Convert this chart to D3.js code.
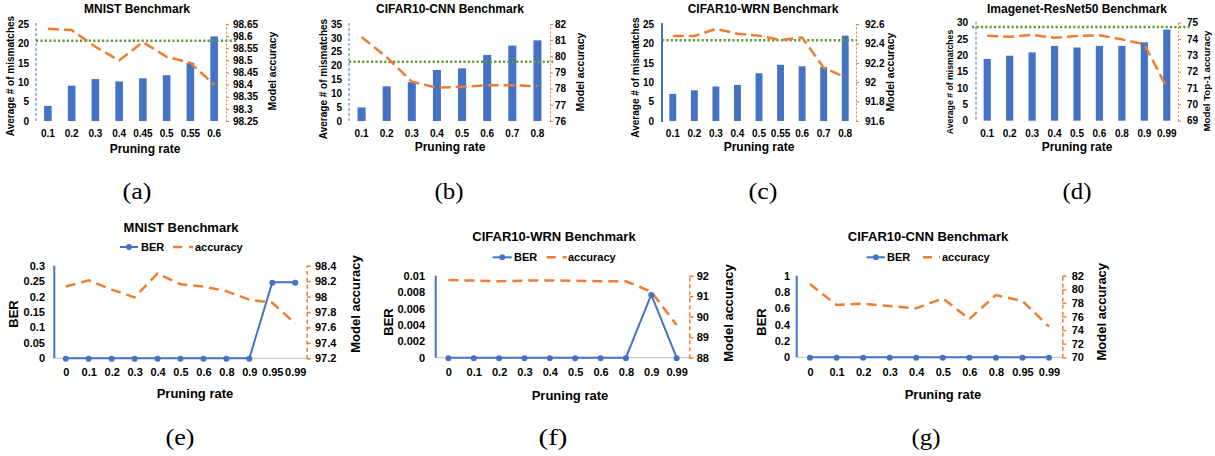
<!DOCTYPE html>
<html><head><meta charset="utf-8">
<script src="https://cdn.jsdelivr.net/npm/d3@7"></script>
<style>
body{margin:0;background:#fff}
svg{display:block}
</style>
</head><body>
<svg id="c" width="1215" height="456"></svg>
<script>
// ---------- DATA ----------
const mnistRates = ["0.1","0.2","0.3","0.4","0.45","0.5","0.55","0.6"];
const mnistMismatch = [3.9, 9.1, 10.8, 10.2, 11.0, 11.8, 15.0, 21.8];
const mnistAcc = [98.63, 98.625, 98.556, 98.50, 98.575, 98.515, 98.49, 98.40];
const mnistThreshold = 20.7;
const mnistCountTicks = [0,5,10,15,20,25];
const mnistAccTicks = [98.25,98.3,98.35,98.4,98.45,98.5,98.55,98.6,98.65];

const cnnRates = ["0.1","0.2","0.3","0.4","0.5","0.6","0.7","0.8"];
const cnnMismatch = [4.9, 12.5, 14.0, 18.4, 19.0, 23.8, 27.2, 29.1];
const cnnAcc = [81.2, 79.94, 78.43, 78.06, 78.12, 78.21, 78.21, 78.15];
const cnnThreshold = 21.4;
const cnnCountTicks = [0,5,10,15,20,25,30,35];
const cnnAccTicks = [76,77,78,79,80,81,82];

const wrnRates = ["0.1","0.2","0.3","0.4","0.5","0.55","0.6","0.7","0.8"];
const wrnMismatch = [7.0, 7.9, 8.9, 9.3, 12.3, 14.5, 14.1, 13.9, 22.0];
const wrnAcc = [92.476, 92.476, 92.55, 92.50, 92.48, 92.435, 92.46, 92.15, 92.05];
const wrnThreshold = 20.8;
const wrnCountTicks = [0,5,10,15,20,25];
const wrnAccTicks = [91.6,91.8,92,92.2,92.4,92.6];

const resRates = ["0.1","0.2","0.3","0.4","0.5","0.6","0.8","0.9","0.99"];
const resMismatch = [18.9, 19.9, 20.9, 22.9, 22.4, 22.9, 22.9, 24.0, 27.9];
const resAcc = [74.2, 74.14, 74.25, 74.08, 74.19, 74.23, 73.98, 73.68, 71.04];
const resThreshold = 28.7;
const resCountTicks = [0,5,10,15,20,25,30];
const resAccTicks = [69,70,71,72,73,74,75];

const berMnistRates = ["0","0.1","0.2","0.3","0.4","0.5","0.6","0.8","0.9","0.95","0.99"];
const berMnist = [0,0,0,0,0,0,0,0,0,0.246,0.246];
const berMnistAcc = [98.13, 98.21, 98.09, 97.99, 98.30, 98.16, 98.13, 98.07, 97.96, 97.92, 97.65];
const berMnistTicks = [0,0.05,0.1,0.15,0.2,0.25,0.3];
const berMnistAccTicks = [97.2,97.4,97.6,97.8,98,98.2,98.4];

const berWrnRates = ["0","0.1","0.2","0.3","0.4","0.5","0.6","0.8","0.9","0.99"];
const berWrn = [0,0,0,0,0,0,0,0,0.0077,0];
const berWrnAcc = [91.79, 91.76, 91.73, 91.76, 91.77, 91.75, 91.73, 91.73, 91.22, 89.6];
const berWrnTicks = [0,0.002,0.004,0.006,0.008,0.01];
const berWrnAccTicks = [88,89,90,91,92];

const berCnnRates = ["0","0.1","0.2","0.3","0.4","0.5","0.6","0.8","0.95","0.99"];
const berCnn = [0,0,0,0,0,0,0,0,0,0];
const berCnnAcc = [80.78, 77.69, 77.88, 77.54, 77.2, 78.67, 75.63, 79.16, 78.28, 74.5];
const berCnnTicks = [0,0.2,0.4,0.6,0.8,1];
const berCnnAccTicks = [70,72,74,76,78,80,82];

const captions = ["(a)","(b)","(c)","(d)","(e)","(f)","(g)"];

// ---------- STYLE ----------
const BLUE = "#4472C4", ORANGE = "#ED7D31", GREEN = "#5E9A3A";
const SANS = '"Liberation Sans",Arial,sans-serif';
const SERIF = '"Liberation Serif","Times New Roman",serif';
const svg = d3.select("#c");
const fmt = d => String(+(+d).toFixed(4));

function rotLabel(g, txt, x, y, fs) {
  g.append("text").attr("transform", `translate(${x},${y}) rotate(-90)`)
    .attr("text-anchor","middle").attr("dy","0.35em").style("font-family", SANS)
    .attr("font-size", fs).attr("font-weight","bold").attr("fill","#000").text(txt);
}
function centerText(g, txt, x, y, fs, bold) {
  g.append("text").attr("x", x).attr("y", y).attr("dy","0.35em").style("font-family", SANS)
    .attr("text-anchor","middle").attr("font-size", fs)
    .attr("font-weight", bold ? "bold" : "normal").attr("fill","#000").text(txt);
}
function styleAxisText(sel, fs) {
  sel.selectAll("text").attr("font-size", fs).attr("font-weight","bold")
    .attr("fill","#000").style("font-family", SANS);
}

// ---------- TOP COMBO CHARTS ----------
function drawTop(p) {
  const g = svg.append("g");
  const x = d3.scaleBand().domain(p.cats).range([p.x0, p.x1]).paddingInner(0.68).paddingOuter(0.34);
  const yL = d3.scaleLinear().domain(d3.extent(p.leftTicks)).range([p.yB, p.yT]);
  const yR = d3.scaleLinear().domain(d3.extent(p.rightTicks)).range([p.yB, p.yT]);

  g.selectAll("rect.bar").data(p.cats).join("rect").attr("class","bar")
    .attr("x", d => x(d)).attr("width", x.bandwidth())
    .attr("y", (d,i) => yL(p.bars[i]))
    .attr("height", (d,i) => yL(0) - yL(p.bars[i]))
    .attr("fill", BLUE);

  g.append("line").attr("x1", p.x0).attr("x2", p.x0).attr("y1", p.yT - 1).attr("y2", p.yB + 1)
    .attr("stroke", BLUE).attr("stroke-width", p.leftSolid ? 2 : 1)
    .attr("stroke-dasharray", p.leftSolid ? null : "3,2");

  const la = g.append("g").attr("transform", `translate(${p.x0},0)`)
    .call(d3.axisLeft(yL).tickValues(p.leftTicks).tickSize(0).tickPadding(p.x0 - p.lRight).tickFormat(fmt));
  la.select(".domain").remove();
  styleAxisText(la, 10);

  const ra = g.append("g").attr("transform", `translate(${p.x1},0)`)
    .call(d3.axisRight(yR).tickValues(p.rightTicks).tickSizeInner(3).tickSizeOuter(0)
      .tickPadding(p.rLeft - p.x1 - 3).tickFormat(fmt));
  ra.select(".domain").attr("stroke", ORANGE).attr("stroke-width", 1).attr("stroke-dasharray","2,2");
  ra.selectAll(".tick line").attr("stroke", ORANGE);
  styleAxisText(ra, 10);

  const xa = g.append("g").attr("transform", `translate(0,${p.yB})`)
    .call(d3.axisBottom(x).tickSize(0).tickPadding(p.xLabY - p.yB - 3.6));
  xa.select(".domain").remove();
  styleAxisText(xa, 10);

  g.append("line").attr("x1", p.thr[0]).attr("x2", p.thr[1])
    .attr("y1", yL(p.threshold)).attr("y2", yL(p.threshold))
    .attr("stroke", GREEN).attr("stroke-width", 2.5).attr("stroke-dasharray","2.2,2.2");

  const line = d3.line().x((d,i) => x(p.cats[i]) + x.bandwidth()/2).y(d => yR(d));
  g.append("path").datum(p.acc).attr("d", line).attr("fill","none")
    .attr("stroke", ORANGE).attr("stroke-width", 2.5).attr("stroke-dasharray","11,5");

  centerText(g, p.title, p.titleX, 8.3, 12, true);
  centerText(g, "Pruning rate", p.prX, p.prY, 12, true);
  rotLabel(g, "Average # of mismatches", p.lLabX, p.lLabY, p.lLabFs || 10);
  rotLabel(g, p.rightLabel, p.rLabX, p.rLabY, p.rLabFs || 10.5);
}

// ---------- BOTTOM LINE CHARTS ----------
function drawBottom(p) {
  const g = svg.append("g");
  const x = d3.scalePoint().domain(p.cats).range([p.x0, p.x1]).padding(0.5);
  const yL = d3.scaleLinear().domain(d3.extent(p.leftTicks)).range([p.yB, p.yT]);
  const yR = d3.scaleLinear().domain(d3.extent(p.rightTicks)).range([p.yB, p.yT]);

  g.append("line").attr("x1", p.x0).attr("x2", p.x1).attr("y1", p.yB).attr("y2", p.yB)
    .attr("stroke", "#bfbfbf").attr("stroke-width", 1);
  g.append("line").attr("x1", p.x0).attr("x2", p.x0).attr("y1", p.yT).attr("y2", p.yB)
    .attr("stroke", BLUE).attr("stroke-width", 2);

  const la = g.append("g").attr("transform", `translate(${p.x0},0)`)
    .call(d3.axisLeft(yL).tickValues(p.leftTicks).tickSize(0).tickPadding(p.x0 - p.lRight).tickFormat(fmt));
  la.select(".domain").remove();
  styleAxisText(la, 11);

  const ra = g.append("g").attr("transform", `translate(${p.x1},0)`)
    .call(d3.axisRight(yR).tickValues(p.rightTicks).tickSizeInner(4).tickSizeOuter(0)
      .tickPadding(p.rLeft - p.x1 - 4).tickFormat(fmt));
  ra.select(".domain").attr("stroke", ORANGE).attr("stroke-width", 1.5).attr("stroke-dasharray","4,3");
  ra.selectAll(".tick line").attr("stroke", ORANGE).attr("stroke-width", 1.5);
  styleAxisText(ra, 11);

  const xa = g.append("g").attr("transform", `translate(0,${p.yB})`)
    .call(d3.axisBottom(x).tickSize(0).tickPadding(p.xLabY - p.yB - 3.9));
  xa.select(".domain").remove();
  styleAxisText(xa, 11);

  const lineR = d3.line().x((d,i) => x(p.cats[i])).y(d => yR(d));
  g.append("path").datum(p.acc).attr("d", lineR).attr("fill","none")
    .attr("stroke", ORANGE).attr("stroke-width", 2.5).attr("stroke-dasharray","10,6");

  const lineL = d3.line().x((d,i) => x(p.cats[i])).y(d => yL(d));
  g.append("path").datum(p.ber).attr("d", lineL).attr("fill","none")
    .attr("stroke", BLUE).attr("stroke-width", 2);
  g.selectAll("circle.m").data(p.ber).join("circle").attr("class","m")
    .attr("cx", (d,i) => x(p.cats[i])).attr("cy", d => yL(d) + 0.5).attr("r", 3).attr("fill", BLUE);

  const ly = p.legY;
  g.append("line").attr("x1", p.legBer[0]).attr("x2", p.legBer[1]).attr("y1", ly).attr("y2", ly)
    .attr("stroke", BLUE).attr("stroke-width", 2);
  g.append("circle").attr("cx", (p.legBer[0]+p.legBer[1])/2).attr("cy", ly).attr("r", 3).attr("fill", BLUE);
  g.append("text").attr("x", p.legBer[2]).attr("y", ly).attr("dy","0.35em").style("font-family", SANS)
    .attr("font-size", 11).attr("font-weight","bold").attr("fill","#000").text("BER");
  g.append("line").attr("x1", p.legAcc[0]).attr("x2", p.legAcc[1]).attr("y1", ly).attr("y2", ly)
    .attr("stroke", ORANGE).attr("stroke-width", 2.5).attr("stroke-dasharray","9,7");
  g.append("text").attr("x", p.legAcc[2]).attr("y", ly).attr("dy","0.35em").style("font-family", SANS)
    .attr("font-size", 11).attr("font-weight","bold").attr("fill","#000").text("accuracy");

  centerText(g, p.title, p.titleX, p.titleY, 13, true);
  centerText(g, "Pruning rate", p.prX, p.prY, 13, true);
  rotLabel(g, "BER", p.berLabX, p.berLabY, 13);
  rotLabel(g, "Model accuracy", p.rLabX, p.rLabY, 13);
}

// ---------- PANELS ----------
drawTop({title:"MNIST Benchmark", cats:mnistRates, bars:mnistMismatch, acc:mnistAcc, threshold:mnistThreshold,
  leftTicks:mnistCountTicks, rightTicks:mnistAccTicks, rightLabel:"Model accuracy",
  x0:36, x1:226, yT:24, yB:121, lRight:29, rLeft:233, lLabX:10, lLabY:76, rLabX:272, rLabY:71,
  titleX:137, xLabY:133.3, prX:145, prY:149, thr:[36,237], leftSolid:false});
drawTop({title:"CIFAR10-CNN Benchmark", cats:cnnRates, bars:cnnMismatch, acc:cnnAcc, threshold:cnnThreshold,
  leftTicks:cnnCountTicks, rightTicks:cnnAccTicks, rightLabel:"Model accuracy",
  x0:349, x1:550, yT:24, yB:121, lRight:342, rLeft:555, lLabX:323, lLabY:79, rLabX:580, rLabY:72,
  titleX:450, xLabY:133.3, prX:450, prY:146.7, thr:[349,553], leftSolid:false});
drawTop({title:"CIFAR10-WRN Benchmark", cats:wrnRates, bars:wrnMismatch, acc:wrnAcc, threshold:wrnThreshold,
  leftTicks:wrnCountTicks, rightTicks:wrnAccTicks, rightLabel:"Model accuracy",
  x0:662, x1:856, yT:24, yB:121, lRight:654, rLeft:865, lLabX:635, lLabY:77.5, rLabX:890, rLabY:72,
  titleX:763, xLabY:133.3, prX:759, prY:146.7, thr:[662,857], leftSolid:true});
drawTop({title:"Imagenet-ResNet50 Benchmark", cats:resRates, bars:resMismatch, acc:resAcc, threshold:resThreshold,
  leftTicks:resCountTicks, rightTicks:resAccTicks, rightLabel:"Model Top-1 accuracy",
  x0:976, x1:1178, yT:22.7, yB:120.7, lRight:968, rLeft:1187, lLabX:950, lLabY:82, rLabX:1207, rLabY:81,
  lLabFs:8.7, rLabFs:9.7,
  titleX:1077, xLabY:133.3, prX:1077, prY:146.7, thr:[972,1192], leftSolid:false});

drawBottom({title:"MNIST Benchmark", cats:berMnistRates, ber:berMnist, acc:berMnistAcc,
  leftTicks:berMnistTicks, rightTicks:berMnistAccTicks,
  x0:54.3, x1:306.7, yT:265.7, yB:358.3, lRight:45, rLeft:315, berLabX:13, berLabY:314, rLabX:355, rLabY:304,
  titleX:181, titleY:227.5, legY:247, legBer:[120,138,141], legAcc:[173,193,195], xLabY:371.7, prX:195, prY:393});
drawBottom({title:"CIFAR10-WRN Benchmark", cats:berWrnRates, ber:berWrn, acc:berWrnAcc,
  leftTicks:berWrnTicks, rightTicks:berWrnAccTicks,
  x0:435.7, x1:689.3, yT:275.7, yB:357.7, lRight:425, rLeft:696.7, berLabX:388, berLabY:322, rLabX:728.3, rLabY:313,
  titleX:554, titleY:236.7, legY:257.3, legBer:[492.7,511.7,514], legAcc:[546.7,566.7,568], xLabY:371.7, prX:570, prY:395});
drawBottom({title:"CIFAR10-CNN Benchmark", cats:berCnnRates, ber:berCnn, acc:berCnnAcc,
  leftTicks:berCnnTicks, rightTicks:berCnnAccTicks,
  x0:796.7, x1:1062.3, yT:275.7, yB:357.3, lRight:790, rLeft:1071.7, berLabX:761.7, berLabY:322, rLabX:1101.7, rLabY:311.7,
  titleX:928, titleY:236, legY:257.3, legBer:[866.7,885,887], legAcc:[923,940,942], xLabY:371.7, prX:943, prY:394});

// captions
const capPos = [[137,191],[449,191],[763,191],[1077,191],[180,437],[553,437],[926,437]];
svg.selectAll("text.cap").data(captions).join("text").attr("class","cap")
  .attr("x", (d,i) => capPos[i][0]).attr("y", (d,i) => capPos[i][1]).attr("dy","0.33em")
  .attr("text-anchor","middle").attr("font-size", 23)
  .attr("textLength", 29).attr("lengthAdjust", "spacingAndGlyphs")
  .style("font-family", SERIF).attr("fill","#000").text(d => d);
</script>
</body></html>
